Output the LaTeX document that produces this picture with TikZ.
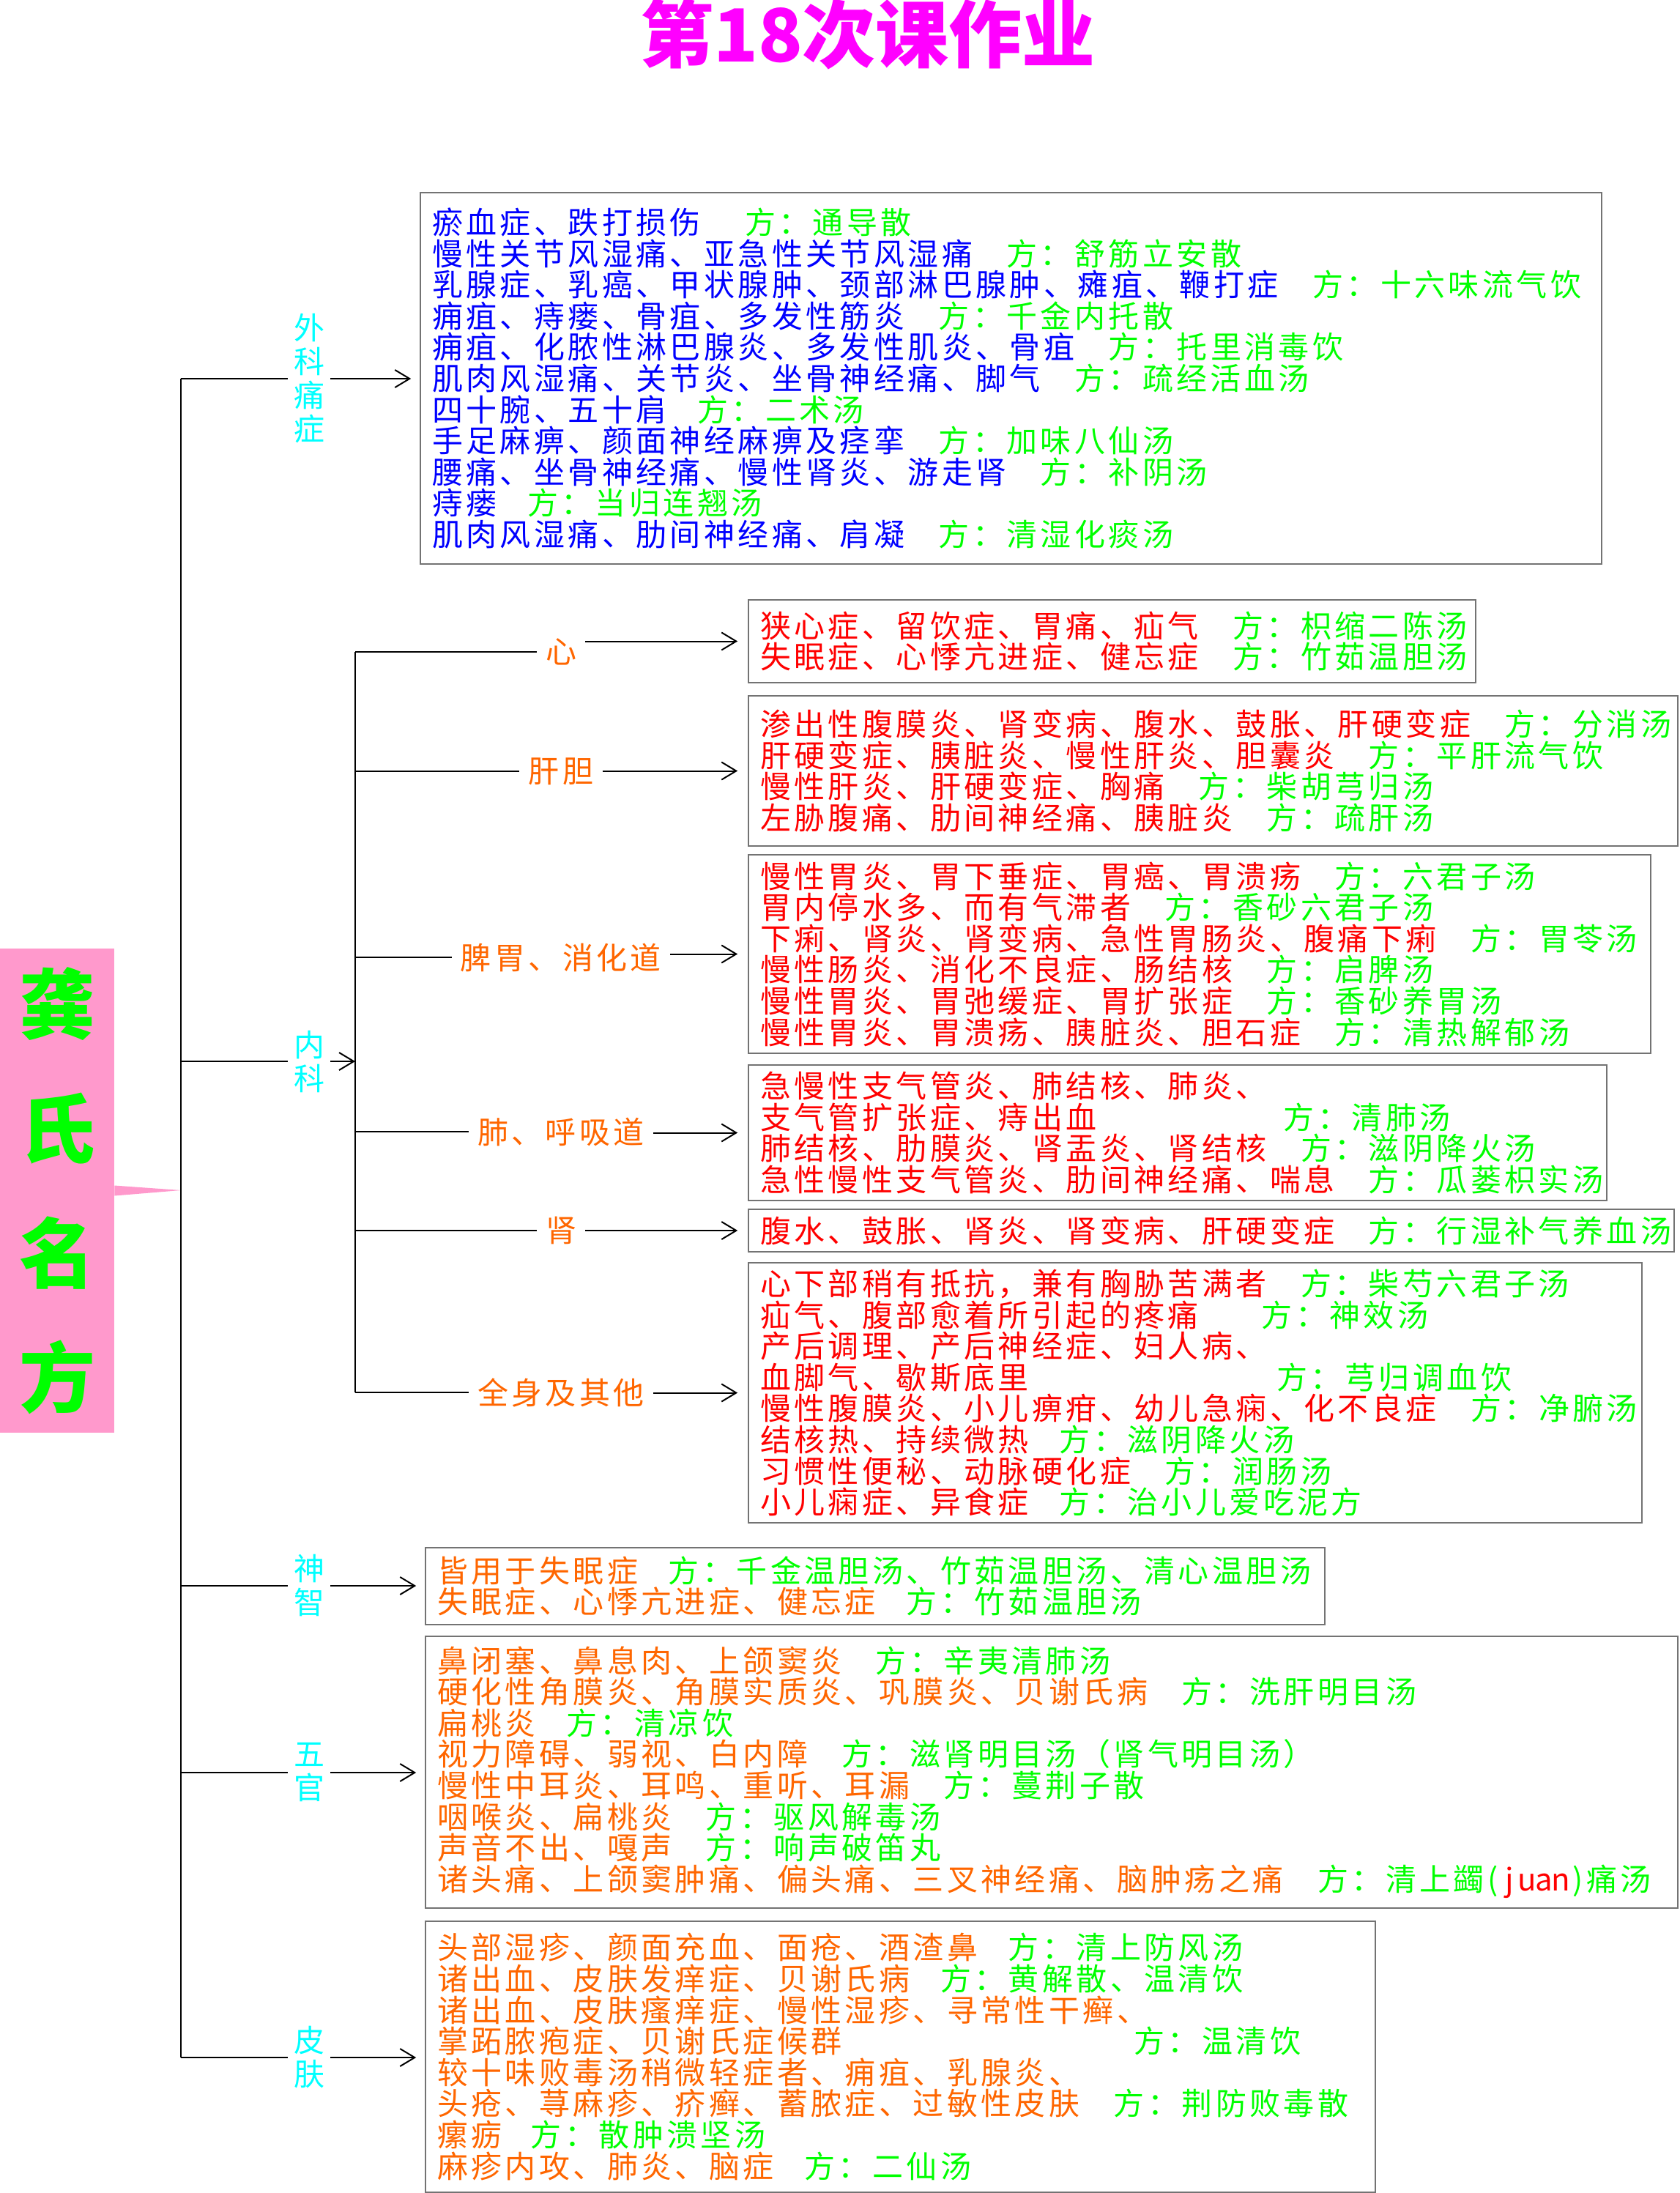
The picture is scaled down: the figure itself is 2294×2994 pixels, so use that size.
\documentclass[tikz,border=0pt]{standalone}
\usepackage{fontspec}
\setmainfont{Noto Sans CJK SC}
\newfontfamily\boxfamily{Noto Sans CJK SC}[LetterSpace=10.5]
\usetikzlibrary{arrows.meta}
\definecolor{fblue}{RGB}{0,0,255}
\definecolor{fgreen}{RGB}{0,255,0}
\definecolor{fred}{RGB}{255,0,0}
\definecolor{forange}{RGB}{255,102,0}
\definecolor{fcyan}{RGB}{0,255,255}
\definecolor{fmagenta}{RGB}{255,0,255}
\definecolor{rootpink}{RGB}{255,153,204}
\newlength\cadv
\setlength\cadv{23.2pt}
\newcommand{\boxfont}{\boxfamily\fontsize{21}{21.3}\selectfont\lineskiplimit=-50pt}
\newcommand{\labelfont}{\boxfamily\fontsize{21}{23}\selectfont\lineskiplimit=-50pt}
\newcommand{\fang}[2][1]{\kern#1\cadv\textcolor{fgreen}{方：#2}}
\newcommand{\hc}[1]{\makebox[.5\cadv]{#1}}
\tikzstyle{box} = [draw=black!55, line width=0.8pt, align=left,
    inner xsep=8pt, inner ysep=0pt, font=\boxfont]
\tikzstyle{cat} = [text=fcyan, align=center, font=\labelfont,
    inner xsep=4pt, inner ysep=0pt]
\tikzstyle{organ} = [text=forange, font=\labelfont, inner xsep=6pt]
\tikzstyle{line} = [draw, line width=1pt]
\tikzstyle{arrow} = [draw, line width=1pt, -{Straight Barb[length=10pt,width=12pt]}]

\begin{document}
\begin{tikzpicture}[x=0.5pt, y=-0.5pt]
    \useasboundingbox (0,0) rectangle (2294,2994);
    % Title and root
    \node[text=fmagenta, font=\fontsize{50}{50}\selectfont\bfseries] (title) at (1185,47) {第18次课作业};
    \node[fill=rootpink, text=fgreen, font=\fontsize{52}{85}\selectfont\bfseries, align=center,
        minimum width=78pt, minimum height=330.5pt, inner sep=0pt] (root) at (78,1625.5) {龚\\氏\\名\\方};
    % Trunk points
    \coordinate (rootjoint) at (247,1625);
    \coordinate (twaike) at (247,517);
    \coordinate (tneike) at (247,1449);
    \coordinate (tshenzhi) at (247,2165);
    \coordinate (twuguan) at (247,2420);
    \coordinate (tpifu) at (247,2809);
    \coordinate (nneike) at (485,1449);
    \coordinate (nxin) at (485,890);
    \coordinate (ngandan) at (485,1053);
    \coordinate (npiwei) at (485,1307);
    \coordinate (nfei) at (485,1545);
    \coordinate (nshen) at (485,1680);
    \coordinate (nquanshen) at (485,1901);
    \fill[rootpink] ([yshift=3.5pt]root.east) -- (rootjoint) -- ([yshift=-3.5pt]root.east) -- cycle;
    % Place labels
    \node[cat] (waike) at (422,517) {外\\科\\痛\\症};
    \node[cat] (neike) at (422,1449) {内\\科};
    \node[cat] (shenzhi) at (422,2165) {神\\智};
    \node[cat] (wuguan) at (422,2420) {五\\官};
    \node[cat] (pifu) at (422,2809) {皮\\肤};
    \node[organ] (xin) at (766,890) {心};
    \node[organ] (gandan) at (766,1053) {肝胆};
    \node[organ] (piwei) at (766,1307) {脾胃、消化道};
    \node[organ] (fei) at (766,1545) {肺、呼吸道};
    \node[organ] (shen) at (766,1680) {肾};
    \node[organ] (quanshen) at (766,1901) {全身及其他};
    % Place boxes
    \node[box, text=fblue, text width=790.5pt, minimum height=253.5pt] (box-waike) at (1380.5,516.5) {
        瘀血症、跌打损伤\fang[1.3]{通导散}\\
        慢性关节风湿痛、亚急性关节风湿痛\fang{舒筋立安散}\\
        乳腺症、乳癌、甲状腺肿、颈部淋巴腺肿、瘫疽、鞭打症\fang{十六味流气饮}\\
        痈疽、痔瘘、骨疽、多发性筋炎\fang{千金内托散}\\
        痈疽、化脓性淋巴腺炎、多发性肌炎、骨疽\fang{托里消毒饮}\\
        肌肉风湿痛、关节炎、坐骨神经痛、脚气\fang{疏经活血汤}\\
        四十腕、五十肩\fang[0.9]{二术汤}\\
        手足麻痹、颜面神经麻痹及痉挛\fang{加味八仙汤}\\
        腰痛、坐骨神经痛、慢性肾炎、游走肾\fang{补阴汤}\\
        痔瘘\fang[0.9]{当归连翘汤}\\
        肌肉风湿痛、肋间神经痛、肩凝\fang{清湿化痰汤}};
    \node[box, text=fred, text width=480.5pt, minimum height=56.5pt] (box-xin) at (1518.5,875.5) {
        狭心症、留饮症、胃痛、疝气\fang{枳缩二陈汤}\\
        失眠症、心悸亢进症、健忘症\fang{竹茹温胆汤}};
    \node[box, text=fred, text width=618.5pt, minimum height=102.5pt] (box-gandan) at (1656.5,1052.5) {
        渗出性腹膜炎、肾变病、腹水、鼓胀、肝硬变症\fang{分消汤}\\
        肝硬变症、胰脏炎、慢性肝炎、胆囊炎\fang{平肝流气饮}\\
        慢性肝炎、肝硬变症、胸痛\fang{柴胡芎归汤}\\
        左胁腹痛、肋间神经痛、胰脏炎\fang{疏肝汤}};
    \node[box, text=fred, text width=600pt, minimum height=135.5pt] (box-piwei) at (1638,1302.5) {
        慢性胃炎、胃下垂症、胃癌、胃溃疡\fang{六君子汤}\\
        胃内停水多、而有气滞者\fang{香砂六君子汤}\\
        下痢、肾炎、肾变病、急性胃肠炎、腹痛下痢\fang{胃苓汤}\\
        慢性肠炎、消化不良症、肠结核\fang{启脾汤}\\
        慢性胃炎、胃弛缓症、胃扩张症\fang{香砂养胃汤}\\
        慢性胃炎、胃溃疡、胰脏炎、胆石症\fang{清热解郁汤}};
    \node[box, text=fred, text width=570pt, minimum height=92.5pt] (box-fei) at (1608,1546.5) {
        急慢性支气管炎、肺结核、肺炎、\\
        支气管扩张症、痔出血\fang[5.5]{清肺汤}\\
        肺结核、肋膜炎、肾盂炎、肾结核\fang{滋阴降火汤}\\
        急性慢性支气管炎、肋间神经痛、喘息\fang{瓜蒌枳实汤}};
    \node[box, text=fred, text width=616pt, minimum height=29pt] (box-shen) at (1654,1680) {
        腹水、鼓胀、肾炎、肾变病、肝硬变症\fang{行湿补气养血汤}};
    \node[box, text=fred, text width=594pt, minimum height=177.5pt] (box-quanshen) at (1632,1901.5) {
        心下部稍有抵抗，兼有胸胁苦满者\fang{柴芍六君子汤}\\
        疝气、腹部愈着所引起的疼痛\fang[1.85]{神效汤}\\
        产后调理、产后神经症、妇人病、\\
        血脚气、歇斯底里\fang[7.3]{芎归调血饮}\\
        慢性腹膜炎、小儿痹疳、幼儿急痫、化不良症\fang{净腑汤}\\
        结核热、持续微热\fang[0.9]{滋阴降火汤}\\
        习惯性便秘、动脉硬化症\fang{润肠汤}\\
        小儿痫症、异食症\fang[0.9]{治小儿爱吃泥方}};
    \node[box, text=forange, text width=598pt, minimum height=52.5pt] (box-shenzhi) at (1195,2165.5) {
        皆用于失眠症\fang[0.9]{千金温胆汤、竹茹温胆汤、清心温胆汤}\\
        失眠症、心悸亢进症、健忘症\fang[0.9]{竹茹温胆汤}};
    \node[box, text=forange, text width=839pt, minimum height=185.5pt] (box-wuguan) at (1436,2419.5) {
        鼻闭塞、鼻息肉、上颌窦炎\fang{辛夷清肺汤}\\
        硬化性角膜炎、角膜实质炎、巩膜炎、贝谢氏病\fang{洗肝明目汤}\\
        扁桃炎\fang[0.9]{清凉饮}\\
        视力障碍、弱视、白内障\fang{滋肾明目汤（肾气明目汤）}\\
        慢性中耳炎、耳鸣、重听、耳漏\fang{蔓荆子散}\\
        咽喉炎、扁桃炎\fang{驱风解毒汤}\\
        声音不出、嘎声\fang{响声破笛丸}\\
        诸头痛、上颌窦肿痛、偏头痛、三叉神经痛、脑肿疡之痛\fang{清上蠲\hc{(}\textcolor{fred}{\hc{j}\hc{u}\hc{a}\hc{n}}\hc{)}痛汤}};
    \node[box, text=forange, text width=632.5pt, minimum height=185pt] (box-pifu) at (1229.5,2808) {
        头部湿疹、颜面充血、面疮、酒渣鼻\fang[0.9]{清上防风汤}\\
        诸出血、皮肤发痒症、贝谢氏病\fang[0.9]{黄解散、温清饮}\\
        诸出血、皮肤瘙痒症、慢性湿疹、寻常性干癣、\\
        掌跖脓疱症、贝谢氏症候群\fang[8.6]{温清饮}\\
        较十味败毒汤稍微轻症者、痈疽、乳腺炎、\\
        头疮、荨麻疹、疥癣、蓄脓症、过敏性皮肤\fang{荆防败毒散}\\
        瘰疬\fang[0.85]{散肿溃坚汤}\\
        麻疹内攻、肺炎、脑症\fang[0.9]{二仙汤}};
    % Draw edges
    \draw[line] (twaike) -- (tpifu);
    \draw[line] (nxin) -- (nquanshen);
    \foreach \a in {waike, neike, shenzhi, wuguan, pifu}
        \draw[line] (t\a) -- (\a.west);
    \foreach \a in {xin, gandan, piwei, fei, shen, quanshen}
        \draw[line] (n\a) -- (\a.west);
    \foreach \a in {waike, shenzhi, wuguan, pifu}
        \draw[arrow, shorten >=6pt] (\a.east) -- (\a.east -| box-\a.west);
    \draw[arrow] (neike.east) -- (nneike);
    \foreach \a in {xin, gandan, piwei, fei, shen, quanshen}
        \draw[arrow, shorten >=7pt] (\a.east |- box-\a.west) -- (box-\a.west);
\end{tikzpicture}
\end{document}
